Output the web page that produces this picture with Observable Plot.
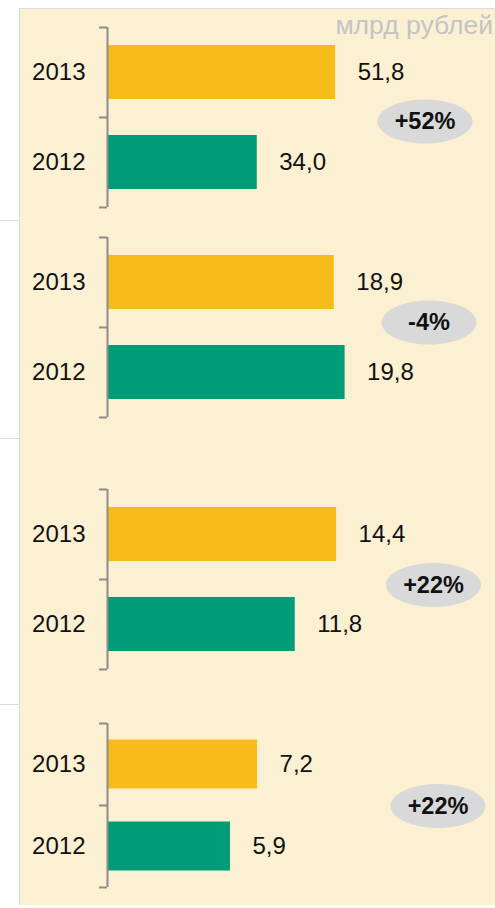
<!DOCTYPE html>
<html>
<head>
<meta charset="utf-8">
<script src="https://cdn.jsdelivr.net/npm/d3@7"></script>
<script src="https://cdn.jsdelivr.net/npm/@observablehq/plot@0.6"></script>
<style>
  html, body { margin: 0; padding: 0; background: #ffffff; }
  #wrap { position: relative; width: 495px; height: 908px; overflow: hidden; font-family: "Liberation Sans", Arial, sans-serif; }
  #panel { position: absolute; left: 19px; top: 8px; right: 0; bottom: 3px; background: #fcf0d3; border-left: 1px solid #dcdcdc; border-top: 1px solid #dcdcdc; }
  .sep { position: absolute; left: 0; width: 19px; height: 0; border-top: 1px solid #dcdcdc; }
  #unit { position: absolute; right: 2px; top: 12px; font-size: 26.5px; line-height: 26px; color: #c4c4c4; white-space: nowrap; }
  .grp { position: absolute; left: 0; }
  .grp svg { overflow: visible; }
</style>
</head>
<body>
<div id="wrap">
  <div id="panel"></div>
  <div class="sep" style="top:220px"></div>
  <div class="sep" style="top:438px"></div>
  <div class="sep" style="top:704px"></div>
  <div id="unit"></div>
</div>
<script>
// ---- data ----
const years = ["2013", "2012"];
const values2013 = [51.8, 18.9, 14.4, 7.2];
const values2012 = [34.0, 19.8, 11.8, 5.9];
const changes = ["+52%", "-4%", "+22%", "+22%"];
const unitLabel = "млрд рублей";

// ---- layout (per group panel) ----
const layout = [
  {top: 0,   height: 218, mt: 27, mb: 11, ppu: 4.405, inset: 18,   bdx: -70.5, bdy: 4},
  {top: 218, height: 220, mt: 19, mb: 21, ppu: 12.0,  inset: 18,   bdx: -66.5, bdy: -5},
  {top: 438, height: 266, mt: 51, mb: 35, ppu: 15.91, inset: 18,   bdx: -62,   bdy: 5.5},
  {top: 704, height: 204, mt: 19, mb: 21, ppu: 20.84, inset: 16.5, bdx: -57.5, bdy: 0.5}
];

const yellow = "#f5bc1c";
const green = "#009b77";
const bracketGray = "#8c8c8c";
const fontFamily = "'Liberation Sans', Arial, sans-serif";
const fmt = v => d3.format(".1f")(v).replace(".", ",");

// ellipse symbol for the change badges
const ellipse = {
  draw(ctx) {
    const rx = 47.5, ry = 22, k = 0.5523;
    ctx.moveTo(rx, 0);
    ctx.bezierCurveTo(rx, ry * k, rx * k, ry, 0, ry);
    ctx.bezierCurveTo(-rx * k, ry, -rx, ry * k, -rx, 0);
    ctx.bezierCurveTo(-rx, -ry * k, -rx * k, -ry, 0, -ry);
    ctx.bezierCurveTo(rx * k, -ry, rx, -ry * k, rx, 0);
    ctx.closePath();
  }
};

document.getElementById("unit").textContent = unitLabel;
const wrap = document.getElementById("wrap");

layout.forEach((L, g) => {
  const rows = [
    {year: years[0], yi: 0, value: values2013[g], color: yellow},
    {year: years[1], yi: 1, value: values2012[g], color: green}
  ];
  const width = 495, marginLeft = 107, marginRight = 0;
  const chart = Plot.plot({
    width,
    height: L.height,
    marginLeft,
    marginRight,
    marginTop: L.mt,
    marginBottom: L.mb,
    style: {background: "transparent", fontFamily, overflow: "visible"},
    x: {domain: [0, (width - marginLeft - marginRight) / L.ppu], axis: null},
    y: {domain: [0, 2], reverse: true},
    marks: [
      Plot.rectX(rows, {
        x1: 0, x2: "value",
        y1: d => d.yi, y2: d => d.yi + 1,
        insetTop: L.inset, insetBottom: L.inset,
        fill: d => d.color
      }),
      Plot.ruleX([0], {stroke: bracketGray, strokeWidth: 2}),
      Plot.axisY({ticks: [0, 1, 2], tickSize: 8, tickFormat: () => "", label: null, stroke: bracketGray, strokeWidth: 2, strokeOpacity: 1}),
      Plot.text(rows, {
        frameAnchor: "left", y: d => d.yi + 0.5, text: "year",
        dx: -22, textAnchor: "end", fontSize: 24, fill: "#111"
      }),
      Plot.text(rows, {
        x: "value", y: d => d.yi + 0.5, text: d => fmt(d.value),
        dx: 22, textAnchor: "start", fontSize: 24, fill: "#111"
      }),
      Plot.dot([changes[g]], {
        frameAnchor: "right", y: () => 1, dx: L.bdx, dy: L.bdy,
        symbol: ellipse, r: 20, fill: "#d9d9d9", stroke: "none"
      }),
      Plot.text([changes[g]], {
        frameAnchor: "right", y: () => 1, dx: L.bdx, dy: L.bdy,
        text: d => d, textAnchor: "middle", fontSize: 23.5, fontWeight: "bold", fill: "#111"
      })
    ]
  });
  const holder = document.createElement("div");
  holder.className = "grp";
  holder.style.top = L.top + "px";
  holder.appendChild(chart);
  wrap.appendChild(holder);
});
</script>
</body>
</html>
